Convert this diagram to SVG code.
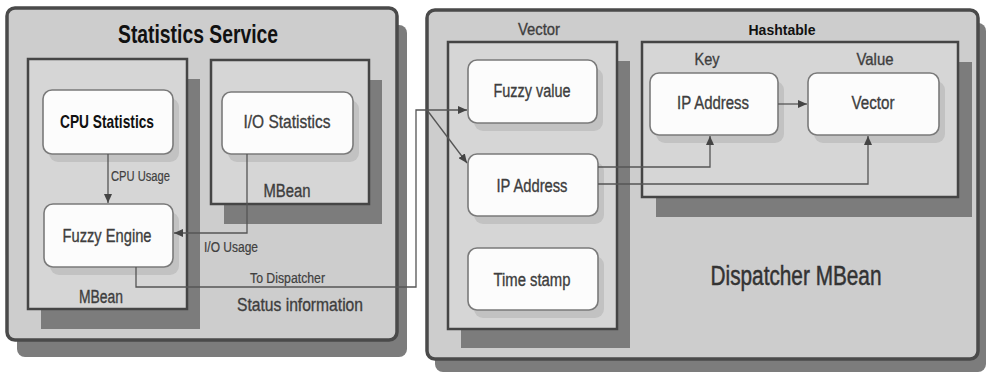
<svg xmlns="http://www.w3.org/2000/svg" width="987" height="373" viewBox="0 0 987 373">
  <style>
    .panel { fill: #cdcdcd; stroke: #4a4a4a; stroke-width: 3.5; }
    .bean { fill: #d6d6d6; stroke: #454545; stroke-width: 2.5; }
    .shadow { fill: #7c7c7c; }
    .soft { fill: #c2c2c2; }
    .box { fill: #fcfcfc; stroke: #7a7a7a; stroke-width: 1.6; }
    text { font-family: "Liberation Sans", Arial, sans-serif; text-anchor: middle; }
    .title { font-weight: bold; fill: #111; }
    .lbl { fill: #3e3e3e; stroke: #3e3e3e; stroke-width: 0.35; }
    .small { fill: #404040; font-size: 14px; text-anchor: start; stroke: #404040; stroke-width: 0.2; }
    .wire { fill: none; stroke: #555; stroke-width: 1.3; }
  </style>
  <defs>
    <marker id="arrow" markerUnits="userSpaceOnUse" markerWidth="10" markerHeight="8" refX="9" refY="4" orient="auto">
      <path d="M0,0 L9,4 L0,8 Z" fill="#444"/>
    </marker>
  </defs>

  <!-- Statistics Service panel -->
  <g id="statistics-service">
    <rect class="shadow" x="17" y="25" width="390" height="332" rx="8"/>
    <rect class="panel" x="7" y="8" width="390" height="332" rx="8"/>
    <text class="title" x="198" y="43" font-size="26" textLength="160" lengthAdjust="spacingAndGlyphs">Statistics Service</text>
    <text class="lbl" x="300" y="311" font-size="19" textLength="126" lengthAdjust="spacingAndGlyphs">Status information</text>
  </g>

  <g id="cpu-mbean">
    <rect class="shadow" x="41" y="79" width="159" height="250"/>
    <rect class="bean" x="28" y="59" width="159" height="250"/>
    <text class="lbl" x="101" y="303" font-size="18" textLength="44" lengthAdjust="spacingAndGlyphs">MBean</text>
  </g>

  <g id="io-mbean">
    <rect class="shadow" x="224" y="80" width="158" height="144"/>
    <rect class="bean" x="211" y="60" width="158" height="144"/>
    <text class="lbl" x="287" y="197" font-size="18" textLength="47" lengthAdjust="spacingAndGlyphs">MBean</text>
  </g>

  <g id="cpu-statistics">
    <rect class="soft" x="49" y="98" width="130" height="64" rx="9"/>
    <rect class="box" x="43" y="90" width="130" height="64" rx="9"/>
    <text class="title" x="107" y="128" font-size="18.5" textLength="94" lengthAdjust="spacingAndGlyphs">CPU Statistics</text>
  </g>

  <g id="io-statistics">
    <rect class="soft" x="228" y="100" width="131" height="62" rx="9"/>
    <rect class="box" x="222" y="92" width="131" height="62" rx="9"/>
    <text class="lbl" x="287" y="128" font-size="18.5" textLength="87" lengthAdjust="spacingAndGlyphs">I/O Statistics</text>
  </g>

  <g id="fuzzy-engine">
    <rect class="soft" x="50" y="212" width="129" height="63" rx="9"/>
    <rect class="box" x="44" y="204" width="129" height="63" rx="9"/>
    <text class="lbl" x="107" y="242" font-size="18.5" textLength="89" lengthAdjust="spacingAndGlyphs">Fuzzy Engine</text>
  </g>

  <!-- Dispatcher MBean panel -->
  <g id="dispatcher-mbean">
    <rect class="shadow" x="435" y="23" width="551" height="349" rx="8"/>
    <rect class="panel" x="427" y="10" width="551" height="349" rx="8"/>
    <text class="lbl" x="796" y="285" font-size="27" textLength="171" lengthAdjust="spacingAndGlyphs" style="fill:#333;stroke:#333;stroke-width:0.5">Dispatcher MBean</text>
  </g>

  <g id="vector">
    <rect class="shadow" x="461" y="61" width="169" height="287"/>
    <rect class="bean" x="448" y="42" width="169" height="287"/>
    <text class="lbl" x="539" y="35" font-size="16.5" textLength="42" lengthAdjust="spacingAndGlyphs">Vector</text>
  </g>

  <g id="fuzzy-value">
    <rect class="soft" x="474" y="68" width="129" height="63" rx="9"/>
    <rect class="box" x="468" y="60" width="129" height="63" rx="9"/>
    <text class="lbl" x="532" y="97" font-size="18" textLength="77" lengthAdjust="spacingAndGlyphs">Fuzzy value</text>
  </g>

  <g id="vector-ip-address">
    <rect class="soft" x="474" y="162" width="130" height="62" rx="9"/>
    <rect class="box" x="468" y="154" width="130" height="62" rx="9"/>
    <text class="lbl" x="532" y="192" font-size="18" textLength="71" lengthAdjust="spacingAndGlyphs">IP Address</text>
  </g>

  <g id="time-stamp">
    <rect class="soft" x="474" y="256" width="130" height="62" rx="9"/>
    <rect class="box" x="468" y="248" width="130" height="62" rx="9"/>
    <text class="lbl" x="532" y="286" font-size="18" textLength="77" lengthAdjust="spacingAndGlyphs">Time stamp</text>
  </g>

  <g id="hashtable">
    <rect class="shadow" x="656" y="62" width="316" height="155"/>
    <rect class="bean" x="642" y="42" width="316" height="155"/>
    <text class="title" x="782" y="35" font-size="15.5" textLength="67" lengthAdjust="spacingAndGlyphs">Hashtable</text>
    <text class="lbl" x="707" y="65" font-size="16.5" textLength="25" lengthAdjust="spacingAndGlyphs">Key</text>
    <text class="lbl" x="875" y="65" font-size="16.5" textLength="37" lengthAdjust="spacingAndGlyphs">Value</text>
  </g>

  <g id="key-ip-address">
    <rect class="soft" x="656" y="81" width="128" height="62" rx="9"/>
    <rect class="box" x="650" y="73" width="128" height="62" rx="9"/>
    <text class="lbl" x="713" y="109" font-size="18" textLength="72" lengthAdjust="spacingAndGlyphs">IP Address</text>
  </g>

  <g id="value-vector">
    <rect class="soft" x="814" y="81" width="131" height="62" rx="9"/>
    <rect class="box" x="808" y="73" width="131" height="62" rx="9"/>
    <text class="lbl" x="873" y="109" font-size="18" textLength="43" lengthAdjust="spacingAndGlyphs">Vector</text>
  </g>

  <!-- Connectors -->
  <g id="connectors">
    <path class="wire" d="M108,154 V203" marker-end="url(#arrow)"/>
    <path class="wire" d="M247,154 V233 H174" marker-end="url(#arrow)"/>
    <path class="wire" d="M136,267 V287 H416 V110 H467" marker-end="url(#arrow)"/>
    <path class="wire" d="M427,110 L467,163" marker-end="url(#arrow)"/>
    <path class="wire" d="M598,167 H710 V136" marker-end="url(#arrow)"/>
    <path class="wire" d="M598,184 H868 V136" marker-end="url(#arrow)"/>
    <path class="wire" d="M778,104 H807" marker-end="url(#arrow)"/>
    <text class="small" x="111" y="181" textLength="59" lengthAdjust="spacingAndGlyphs">CPU Usage</text>
    <text class="small" x="204" y="252" textLength="54" lengthAdjust="spacingAndGlyphs">I/O Usage</text>
    <text class="small" x="250" y="283" textLength="75" lengthAdjust="spacingAndGlyphs">To Dispatcher</text>
  </g>
</svg>
